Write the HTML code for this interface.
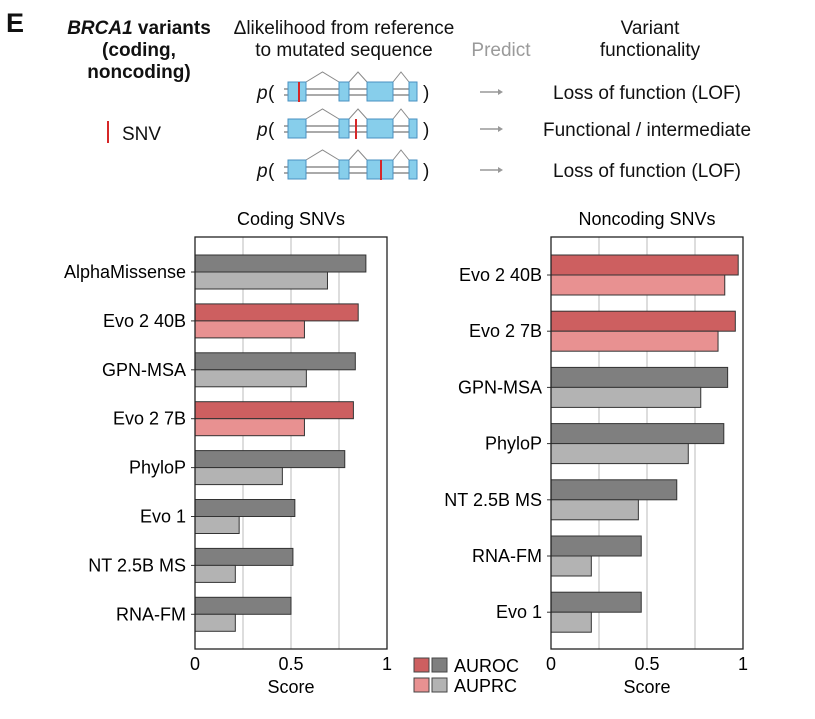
<!DOCTYPE html>
<html><head><meta charset="utf-8"><style>
body{margin:0;background:#fff;width:815px;height:714px;overflow:hidden;font-family:"Liberation Sans",Arial,sans-serif}
svg text{font-family:"Liberation Sans",Arial,sans-serif}
</style></head><body>
<svg id="fig" width="815" height="714" xmlns="http://www.w3.org/2000/svg">
<g id="topg" font-size="19" fill="#111">
<text x="6" y="32" font-size="27" font-weight="bold">E</text>
<text x="139" y="34" text-anchor="middle" font-weight="bold"><tspan font-style="italic">BRCA1</tspan> variants</text>
<text x="139" y="56" text-anchor="middle" font-weight="bold">(coding,</text>
<text x="139" y="78" text-anchor="middle" font-weight="bold">noncoding)</text>
<line x1="108" y1="121" x2="108" y2="143" stroke="#d62728" stroke-width="2"/>
<text x="122" y="140">SNV</text>
<text x="344" y="34" text-anchor="middle">Δlikelihood from reference</text>
<text x="344" y="56" text-anchor="middle">to mutated sequence</text>
<text x="501" y="56" text-anchor="middle" fill="#9a9a9a">Predict</text>
<text x="650" y="34" text-anchor="middle">Variant</text>
<text x="650" y="56" text-anchor="middle">functionality</text>
</g>
<g id="charts"></g>
</svg>
<script>
const NS='http://www.w3.org/2000/svg';
function mk(tag,attrs,parent,txt){const e=document.createElementNS(NS,tag);for(const k in attrs)e.setAttribute(k,attrs[k]);if(txt!==undefined)e.textContent=txt;parent.appendChild(e);return e;}
const topG=document.getElementById('topg');
const rowY=[92,129,170];
const snvX=[299,356,381];
const rowText=['Loss of function (LOF)','Functional / intermediate','Loss of function (LOF)'];
const exons=[[288,306],[339,349],[367,393],[409,417]];
rowY.forEach((y,i)=>{
  let t=mk('text',{x:257,y:y+7,'font-size':19,'font-style':'italic'},topG,'p');
  
  
  mk('text',{x:268,y:y+7,'font-size':19},topG,'(');
  mk('text',{x:423,y:y+7,'font-size':19},topG,')');
  mk('line',{x1:284,y1:y-3,x2:417,y2:y-3,stroke:'#777','stroke-width':1.3},topG);
  mk('line',{x1:284,y1:y+3,x2:417,y2:y+3,stroke:'#777','stroke-width':1.3},topG);
  for(let j=0;j<exons.length-1;j++){const a=exons[j][1],b=exons[j+1][0];
    mk('polyline',{points:`${a},${y-10} ${(a+b)/2},${y-20} ${b},${y-10}`,fill:'none',stroke:'#888','stroke-width':1},topG);}
  exons.forEach(e=>{mk('rect',{x:e[0],y:y-10,width:e[1]-e[0],height:19,fill:'#87ceeb',stroke:'#4a90c0','stroke-width':1},topG);});
  const s=mk('line',{x1:snvX[i],y1:y-10,x2:snvX[i],y2:y+10,stroke:'#d62728','stroke-width':2},topG);
  
  
  mk('line',{x1:480,y1:y,x2:498,y2:y,stroke:'#999','stroke-width':1.5},topG);
  mk('polygon',{points:`498,${y-3} 503,${y} 498,${y+3}`,fill:'#999'},topG);
  const rt=mk('text',{x:647,y:y+7,'text-anchor':'middle','font-size':19},topG,rowText[i]);
  
  
});

// chart data
const codingCats=['AlphaMissense','Evo 2 40B','GPN-MSA','Evo 2 7B','PhyloP','Evo 1','NT 2.5B MS','RNA-FM'];
const codingAUROC=[0.89,0.85,0.835,0.825,0.78,0.52,0.51,0.50];
const codingAUPRC=[0.69,0.57,0.58,0.57,0.455,0.23,0.21,0.21];
const codingEvo=[0,1,0,1,0,0,0,0];
const noncodingCats=['Evo 2 40B','Evo 2 7B','GPN-MSA','PhyloP','NT 2.5B MS','RNA-FM','Evo 1'];
const noncodingAUROC=[0.975,0.96,0.92,0.90,0.655,0.47,0.47];
const noncodingAUPRC=[0.905,0.87,0.78,0.715,0.455,0.21,0.21];
const noncodingEvo=[1,1,0,0,0,0,0];
const tickVals=[0,0.5,1];
const tickLabels=['0','0.5','1'];
const gridVals=[0.25,0.5,0.75];

const charts=document.getElementById('charts');
function chart(name,title,x0,cats,auroc,auprc,evo,barH,firstTop,pitch){
  const g=mk('g',{},charts);
  
  
  const W=192,y0=237,y1=649;
  const sx=v=>x0+v*W;
  const t=mk('text',{x:x0+W/2,y:225,'text-anchor':'middle','font-size':18},g,title);
  
  
  gridVals.forEach(v=>{const l=mk('line',{x1:sx(v),y1:y0,x2:sx(v),y2:y1,stroke:'#bbb','stroke-width':1},g);
    
    });
  cats.forEach((c,i)=>{
    const bt=firstTop+i*pitch;
    const r1=mk('rect',{x:x0,y:bt,width:sx(auroc[i])-x0,height:barH,fill:evo[i]?'#cd5f60':'#7f7f7f',stroke:'#333','stroke-width':1},g);
    
    
    const r2=mk('rect',{x:x0,y:bt+barH,width:sx(auprc[i])-x0,height:barH,fill:evo[i]?'#e89191':'#b3b3b3',stroke:'#333','stroke-width':1},g);
    
    
    mk('line',{x1:x0-4,y1:bt+barH,x2:x0,y2:bt+barH,stroke:'#333'},g);
    const lb=mk('text',{x:x0-9,y:bt+barH+6,'text-anchor':'end','font-size':18},g,c);
    
    
  });
  const fr=mk('rect',{x:x0,y:y0,width:W,height:y1-y0,fill:'none',stroke:'#222','stroke-width':1.3},g);
  
  
  tickVals.forEach((v,i)=>{const tl=mk('text',{x:sx(v),y:670,'text-anchor':'middle','font-size':18},g,tickLabels[i]);
    
    });
  const xt=mk('text',{x:x0+W/2,y:693,'text-anchor':'middle','font-size':18},g,'Score');
  
  
}
chart('coding-chart','Coding SNVs',195,codingCats,codingAUROC,codingAUPRC,codingEvo,17,255,48.9);
chart('noncoding-chart','Noncoding SNVs',551,noncodingCats,noncodingAUROC,noncodingAUPRC,noncodingEvo,20,255,56.2);

const lg=mk('g',{},charts);


[['AUROC','#cd5f60','#7f7f7f',658],['AUPRC','#e89191','#b3b3b3',678]].forEach(r=>{
  mk('rect',{x:414,y:r[3],width:15,height:14,fill:r[1],stroke:'#444'},lg);
  mk('rect',{x:432,y:r[3],width:15,height:14,fill:r[2],stroke:'#444'},lg);
  const t=mk('text',{x:454,y:r[3]+14,'font-size':18},lg,r[0]);
  
  
});
</script>
</body></html>
